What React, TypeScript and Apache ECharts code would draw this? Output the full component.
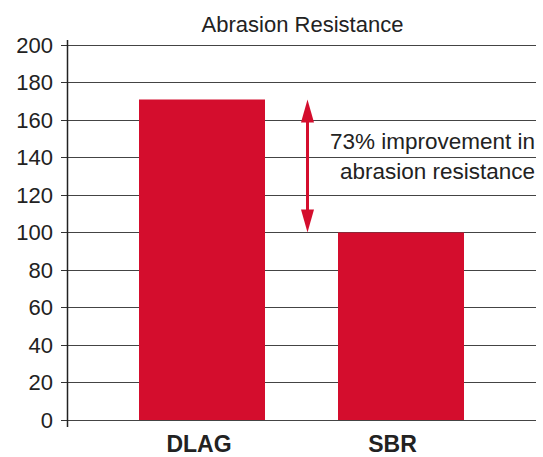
import React, { useEffect, useRef } from "react";
import * as echarts from "echarts";

const title = "Abrasion Resistance";
const categories = ["DLAG", "SBR"];
const values = [171, 100];
const yMin = 0;
const yMax = 200;
const yInterval = 20;
const annotationLines = ["73% improvement in", "abrasion resistance"];

const FONT = "'Liberation Sans', Arial, sans-serif";
const RED = "#D40D2D";
const TEXT = "#222222";

export default function App() {
  const ref = useRef<HTMLDivElement>(null);

  useEffect(() => {
    if (!ref.current) return;
    const chart = echarts.init(ref.current, null, { renderer: "svg" });
    const option: any = {
      animation: false,
      backgroundColor: "#ffffff",
      title: {
        text: title,
        left: 297.5,
        top: 8,
        textAlign: "center",
        textStyle: { fontFamily: FONT, fontSize: 22, fontWeight: "normal", color: TEXT },
      },
      grid: [
        { left: 68, right: 7, top: 45, bottom: 37 },
        { left: 102.5, width: 398, top: 45, bottom: 37 },
      ],
      xAxis: [
        { type: "value", gridIndex: 0, show: false, min: 0, max: 1 },
        {
          type: "category",
          gridIndex: 1,
          data: categories.map((c, i) => ({
            value: c,
            textStyle: { padding: [0, i === 0 ? 6 : 17, 0, 0] },
          })),
          axisLine: { show: false },
          axisTick: { show: false },
          axisLabel: {
            margin: 12,
            fontFamily: FONT,
            fontSize: 23,
            fontWeight: "bold",
            color: TEXT,
          },
        },
      ],
      yAxis: [
        {
          type: "value",
          gridIndex: 0,
          min: yMin,
          max: yMax,
          interval: yInterval,
          axisLine: { show: false },
          axisTick: { show: true, length: 7, lineStyle: { color: "#333", width: 1 } },
          axisLabel: { margin: 15, fontFamily: FONT, fontSize: 22, color: TEXT },
          splitLine: { show: true, lineStyle: { color: "#444", width: 1 } },
        },
        { type: "value", gridIndex: 1, min: yMin, max: yMax, interval: yInterval, show: false },
      ],
      series: [
        {
          type: "bar",
          xAxisIndex: 1,
          yAxisIndex: 1,
          data: values,
          barWidth: 126,
          itemStyle: { color: RED },
          silent: true,
        },
      ],
    };
    chart.setOption(option);

    const yTop = chart.convertToPixel({ yAxisIndex: 1 }, values[0]) as number;
    const yBot = chart.convertToPixel({ yAxisIndex: 1 }, values[1]) as number;
    const y0 = chart.convertToPixel({ yAxisIndex: 0 }, yMin) as number;
    const y200 = chart.convertToPixel({ yAxisIndex: 0 }, yMax) as number;
    const ax = 307.5;
    const headL = 23;
    const headW = 6.5;

    chart.setOption({
      graphic: [
        {
          type: "line",
          shape: { x1: 67.5, y1: y200 - 5, x2: 67.5, y2: y0 + 7 },
          style: { stroke: "#222", lineWidth: 1.5 },
          z: 10,
        },
        {
          type: "line",
          shape: { x1: ax, y1: yTop + headL - 2, x2: ax, y2: yBot - headL + 2 },
          style: { stroke: RED, lineWidth: 3 },
          z: 10,
        },
        {
          type: "polygon",
          shape: { points: [[ax, yTop], [ax - headW, yTop + headL], [ax + headW, yTop + headL]] },
          style: { fill: RED },
          z: 10,
        },
        {
          type: "polygon",
          shape: { points: [[ax, yBot], [ax - headW, yBot - headL], [ax + headW, yBot - headL]] },
          style: { fill: RED },
          z: 10,
        },
        {
          type: "text",
          x: 535,
          y: 156,
          style: {
            text: annotationLines.join("\n"),
            align: "right",
            verticalAlign: "middle",
            lineHeight: 30,
            fontFamily: FONT,
            fontSize: 22.5,
            fill: TEXT,
          },
          z: 10,
        },
      ],
    });

    return () => chart.dispose();
  }, []);

  return (
    <div
      ref={ref}
      style={{ position: "fixed", left: 0, top: 0, width: 543, height: 457, background: "#fff" }}
    />
  );
}
